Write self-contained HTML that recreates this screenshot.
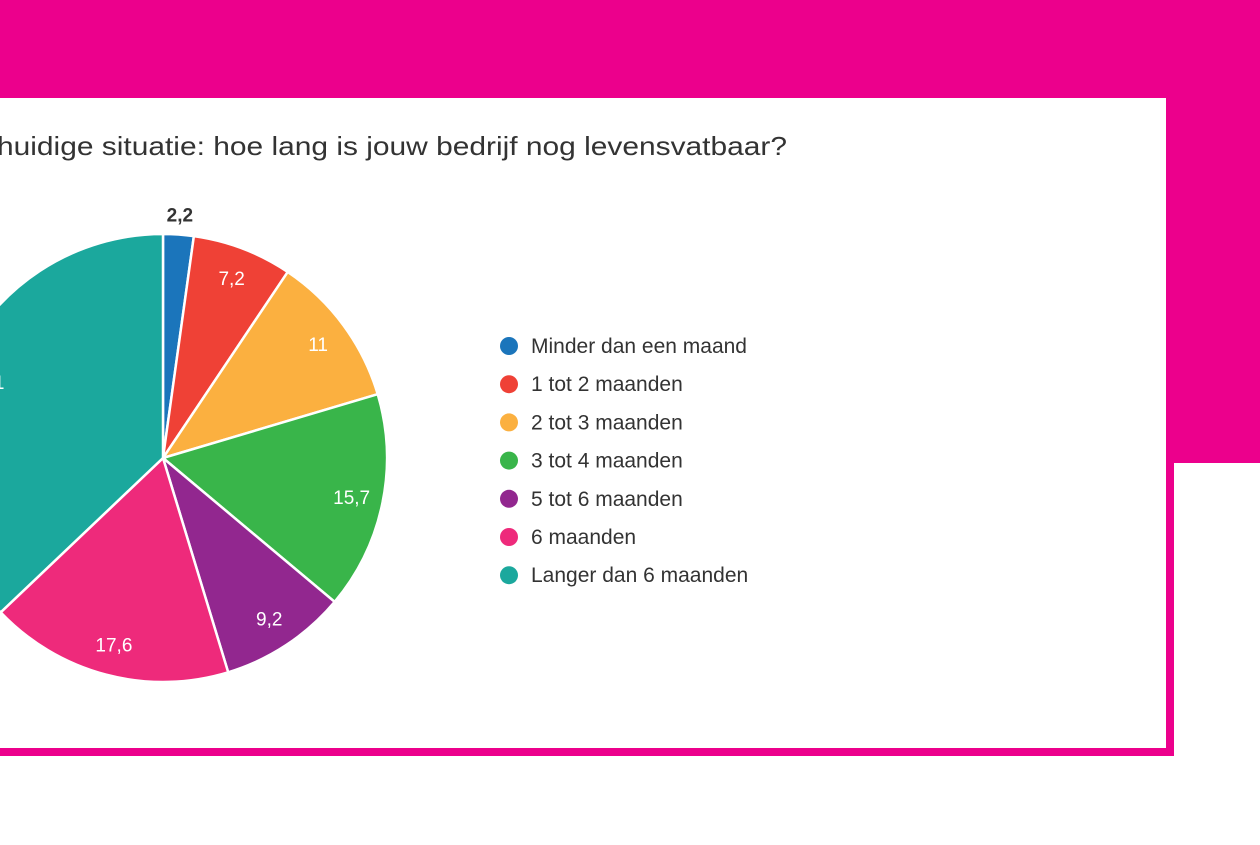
<!DOCTYPE html>
<html><head><meta charset="utf-8"><style>
body{margin:0;width:1260px;height:840px;overflow:hidden;background:#fff;font-family:"Liberation Sans",sans-serif}
</style></head><body>
<svg width="1260" height="840" xmlns="http://www.w3.org/2000/svg">
<rect x="0" y="0" width="1260" height="98" fill="#ec008c"/>
<rect x="1166" y="98" width="94" height="365" fill="#ec008c"/>
<rect x="1166" y="463" width="8" height="293" fill="#ec008c"/>
<rect x="0" y="748" width="1174" height="8" fill="#ec008c"/>
<text x="-3" y="155" font-size="26" fill="#333" textLength="790" lengthAdjust="spacingAndGlyphs">huidige situatie: hoe lang is jouw bedrijf nog levensvatbaar?</text>
<g id="pie"></g>
<g id="legend"></g>
</svg>
<script>
const categories=["Minder dan een maand","1 tot 2 maanden","2 tot 3 maanden","3 tot 4 maanden","5 tot 6 maanden","6 maanden","Langer dan 6 maanden"];
const values=[2.2,7.2,11,15.7,9.2,17.6,37.1];
const labels=["2,2","7,2","11","15,7","9,2","17,6","37,1"];
const colors=["#1b75bb","#ef4136","#fbb040","#39b54a","#92278f","#ee2a7b","#1ba89d"];
const NS="http://www.w3.org/2000/svg";
const cx=163,cy=458,r=224;
const total=values.reduce((a,b)=>a+b,0);
const pie=document.getElementById('pie');
function pt(a,rr){return [cx+rr*Math.sin(a),cy-rr*Math.cos(a)];}
let acc=0;
values.forEach((v,i)=>{
  const a0=acc/total*2*Math.PI; acc+=v; const a1=acc/total*2*Math.PI;
  const p0=pt(a0,r),p1=pt(a1,r);
  const path=document.createElementNS(NS,'path');
  path.setAttribute('d',`M${cx},${cy}L${p0[0]},${p0[1]}A${r},${r} 0 ${a1-a0>Math.PI?1:0} 1 ${p1[0]},${p1[1]}Z`);
  path.setAttribute('fill',colors[i]);path.setAttribute('stroke','#fff');path.setAttribute('stroke-width','2.5');
  
  
  pie.appendChild(path);
  const am=(a0+a1)/2;
  const small=v/total<0.04;
  const lp=pt(am,small?r+20:r*0.86);
  const t=document.createElementNS(NS,'text');
  t.setAttribute('x',lp[0]);t.setAttribute('y',lp[1]+7);
  t.setAttribute('text-anchor','middle');t.setAttribute('font-size','19');
  t.setAttribute('fill',small?'#333':'#fff');
  if(small)t.setAttribute('font-weight','bold');
  t.textContent=labels[i];
  
  
  pie.appendChild(t);
});
const lg=document.getElementById('legend');
categories.forEach((c,i)=>{
  const y=346+i*38.2;
  const g=document.createElementNS(NS,'g');
  
  
  const ci=document.createElementNS(NS,'circle');
  ci.setAttribute('cx',509);ci.setAttribute('cy',y);ci.setAttribute('r',9);ci.setAttribute('fill',colors[i]);
  const t=document.createElementNS(NS,'text');
  t.setAttribute('x',531);t.setAttribute('y',y+7);t.setAttribute('font-size','21');t.setAttribute('fill','#333');
  t.textContent=c;
  g.appendChild(ci);g.appendChild(t);lg.appendChild(g);
});
</script>
</body></html>
